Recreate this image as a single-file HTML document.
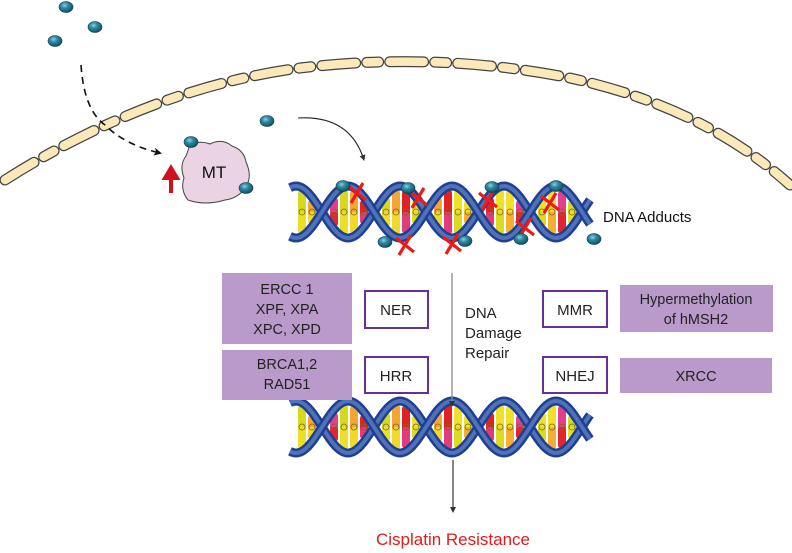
<!DOCTYPE html>
<html><head><meta charset="utf-8"><style>
html,body{margin:0;padding:0;background:#fff;}
svg{display:block;font-family:"Liberation Sans",Arial,sans-serif;}
</style></head><body>
<svg id="s" width="792" height="553" viewBox="0 0 792 553" xmlns="http://www.w3.org/2000/svg">
<defs>
<radialGradient id="bead" cx="40%" cy="35%" r="65%"><stop offset="0" stop-color="#8fd0e0"/><stop offset="0.4" stop-color="#2f8aa5"/><stop offset="1" stop-color="#12505f"/></radialGradient>
<marker id="ah" markerWidth="8" markerHeight="8" refX="6" refY="4" orient="auto" markerUnits="userSpaceOnUse"><path d="M0,0 L8,4 L0,8 L2,4z" fill="#111"/></marker>
<marker id="ah2" markerWidth="6" markerHeight="6" refX="5" refY="3" orient="auto" markerUnits="userSpaceOnUse"><path d="M0,0 L6,3 L0,6z" fill="#333"/></marker>
</defs>
<path d="M5,180 Q150,88 300,68 Q430,52 560,76 Q700,104 790,185" fill="none" stroke="#444" stroke-width="11" stroke-linecap="round" stroke-dasharray="34 11 12 11"/>
<path d="M5,180 Q150,88 300,68 Q430,52 560,76 Q700,104 790,185" fill="none" stroke="#fbe9b9" stroke-width="8.5" stroke-linecap="round" stroke-dasharray="34 11 12 11"/>
<path d="M81,65 Q84,110 105,125 Q125,145 160,153" fill="none" stroke="#111" stroke-width="1.6" stroke-dasharray="7 5" marker-end="url(#ah)"/>
<path d="M298,118 Q350,115 364,160" fill="none" stroke="#222" stroke-width="1.1" marker-end="url(#ah2)"/>
<path d="M190,145 Q200,140 210,144 Q222,138 232,146 Q244,150 246,162 Q252,175 247,185 Q240,198 225,200 Q205,206 188,200 Q180,190 184,178 Q179,165 186,156 Z" fill="#ead3e3" stroke="#444" stroke-width="1"/>
<text x="214" y="178" font-size="17" text-anchor="middle" fill="#111">MT</text>
<path d="M171,193 V176 M165,178 L171,168 L177,178 Z" stroke="#d0101e" stroke-width="4" fill="#d0101e"/>
<g id="beads"></g>
<g id="h1"></g><g id="h2"></g>
<text x="603" y="222" font-size="15" fill="#111">DNA Adducts</text>
<rect x="222" y="273" width="130" height="71" fill="#b99acb"/>
<rect x="222" y="350" width="130" height="50" fill="#b99acb"/>
<g font-size="14.5" fill="#222" text-anchor="middle">
<text x="287" y="294">ERCC 1</text><text x="287" y="314">XPF, XPA</text><text x="287" y="334">XPC, XPD</text>
<text x="287" y="369">BRCA1,2</text><text x="287" y="389">RAD51</text>
</g>
<rect x="365" y="291" width="63" height="37" fill="#fff" stroke="#6a2e99" stroke-width="2"/>
<rect x="365" y="357" width="63" height="36" fill="#fff" stroke="#6a2e99" stroke-width="2"/>
<rect x="543" y="291" width="64" height="36" fill="#fff" stroke="#6a2e99" stroke-width="2"/>
<rect x="543" y="357" width="64" height="36" fill="#fff" stroke="#6a2e99" stroke-width="2"/>
<g font-size="15" fill="#222" text-anchor="middle">
<text x="396" y="315">NER</text><text x="396" y="381">HRR</text>
<text x="575" y="315">MMR</text><text x="575" y="381">NHEJ</text>
</g>
<line x1="452" y1="273" x2="452" y2="406" stroke="#888" stroke-width="1.3" marker-end="url(#ah2)"/>
<g font-size="15" fill="#222"><text x="465" y="318">DNA</text><text x="465" y="338">Damage</text><text x="465" y="358">Repair</text></g>
<rect x="620" y="285" width="153" height="47" fill="#b99acb"/>
<rect x="620" y="358" width="152" height="35" fill="#b99acb"/>
<g font-size="14.5" fill="#222" text-anchor="middle">
<text x="696" y="304">Hypermethylation</text><text x="696" y="324">of  hMSH2</text><text x="696" y="381">XRCC</text>
</g>
<line x1="453" y1="460" x2="453" y2="512" stroke="#222" stroke-width="1.1" marker-end="url(#ah2)"/>
<text x="453" y="545" font-size="17" fill="#e21b1b" text-anchor="middle">Cisplatin Resistance</text>
</svg>
<script>
var NS="http://www.w3.org/2000/svg";
function el(p,t,a){var e=document.createElementNS(NS,t);for(var k in a)e.setAttribute(k,a[k]);p.appendChild(e);return e;}
function helix(g,cy){
 var x0=290,x1=590,A=26,h=52,ph=322;
 var cols=["#f0e02a","#e2408c","#d8d820","#f5a532","#e02222","#f0e02a"];
 var i=0;
 for(var c=ph-h;c<x1;c+=h){
  var xs=[c+12,c+22,c+32,c+42];
  for(var j=0;j<4;j++){var x=xs[j];if(x<x0+10||x>x1-8)continue;
   var amp=Math.abs(A*Math.sin(Math.PI*(x-ph)/h))-3; if(amp<4)continue;
   var col=cols[(i+j)%cols.length];
   el(g,"rect",{x:x-4,y:cy-amp,width:8,height:amp*2,rx:3,fill:col});
   el(g,"rect",{x:x-4,y:cy,width:8,height:amp,rx:3,fill:cols[(i+j+3)%cols.length],opacity:0.85});
   el(g,"circle",{cx:x,cy:cy,r:3,fill:"none",stroke:"#7a6a10","stroke-width":0.8});
  }
  i++;
 }
 for(var s=0;s<2;s++){
  var d="";
  for(var x=x0;x<=x1;x+=2){var y=cy+(s?-1:1)*A*Math.sin(Math.PI*(x-ph)/h);d+=(x==x0?"M":"L")+x+","+y.toFixed(1);}
  el(g,"path",{d:d,fill:"none",stroke:"#1f3f8f","stroke-width":9});
  el(g,"path",{d:d,fill:"none",stroke:"#4f72bb","stroke-width":4});
 }
}
helix(document.getElementById("h1"),212);
helix(document.getElementById("h2"),427);
var b=document.getElementById("beads");
[[66,7],[95,27],[55,41],[267,121],[191,142],[246,188],[343,186],[408,188],[492,187],[556,186],[385,242],[465,241],[521,239],[594,239]].forEach(function(p){
 el(b,"ellipse",{cx:p[0],cy:p[1],rx:7,ry:5.5,fill:"url(#bead)",stroke:"#0d3e4a","stroke-width":0.6});
});
var g=document.getElementById("h1");
[[357,193],[418,198],[405,245],[452,244],[488,200],[525,228],[550,203]].forEach(function(p){
 el(g,"path",{d:"M"+(p[0]-9)+","+(p[1]-7)+"L"+(p[0]+9)+","+(p[1]+7)+"M"+(p[0]+6)+","+(p[1]-10)+"L"+(p[0]-6)+","+(p[1]+10),stroke:"#f01818","stroke-width":3.2,fill:"none"});
});
g.parentNode.appendChild(b);
</script>
</body></html>
